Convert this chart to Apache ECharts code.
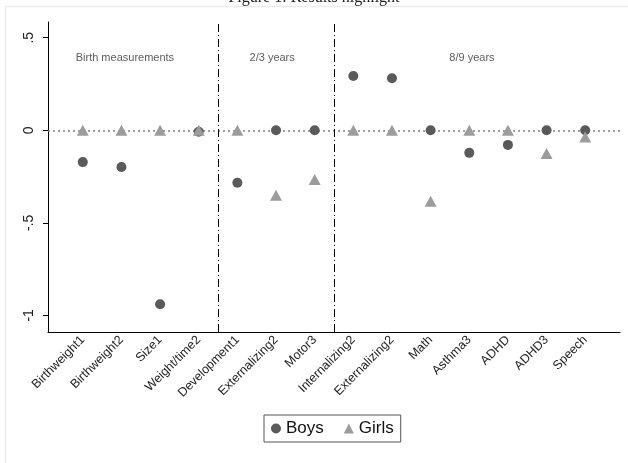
<!DOCTYPE html>
<html>
<head>
<meta charset="utf-8">
<script src="https://cdn.jsdelivr.net/npm/echarts@6/dist/echarts.min.js"></script>
<style>
html, body { margin: 0; padding: 0; background: #fff; }
#chart { width: 628px; height: 463px; }
</style>
</head>
<body>
<div id="chart"></div>
<script>
var chart = echarts.init(document.getElementById('chart'));

let categories = ['Birthweight1', 'Birthweight2', 'Size1', 'Weight/time2', 'Development1',
    'Externalizing2', 'Motor3', 'Internalizing2', 'Externalizing2', 'Math', 'Asthma3',
    'ADHD', 'ADHD3', 'Speech'];
let boys = [-0.172, -0.198, -0.94, -0.008, -0.284, 0, 0, 0.293, 0.281, 0, -0.122, -0.079, 0, 0];
let girls = [0, 0, 0, 0, 0, -0.351, -0.266, 0, 0, -0.383, 0, 0, -0.126, -0.036];
let yTicks = [-1, -0.5, 0, 0.5];
let dividers = [4.5, 7.5];
let sections = ['Birth measurements', '2/3 years', '8/9 years'];
let sectionX = [2.09, 5.9, 11.07];
let sectionY = 0.39;

let positions = categories.map((c, i) => i + 1);
let font = 'Liberation Sans, Arial, sans-serif';

let fmtY = function (v) {
    if (v === 0) return '0';
    return String(v).replace('0.', '.');
};

option = {
    backgroundColor: '#fff',
    animation: false,
    textStyle: { fontFamily: font },
    graphic: [{
        type: 'rect',
        shape: { x: 5.5, y: 6.5, width: 640, height: 470 },
        style: { fill: 'none', stroke: '#ececec', lineWidth: 1.5 },
        z: -1
    }, {
        type: 'text',
        left: 'center',
        top: -10,
        style: {
            text: 'Figure 1: Results highlight',
            font: '16px "Liberation Serif", "DejaVu Serif", serif',
            fill: '#222'
        }
    }],
    grid: { left: 48, right: 8, top: 22, bottom: 131 },
    legend: {
        data: [
            { name: 'Boys', icon: 'circle' },
            { name: 'Girls', icon: 'triangle' }
        ],
        top: 415,
        left: 264,
        borderColor: '#555',
        borderWidth: 1,
        borderRadius: 0,
        padding: [5, 7, 5, 7],
        itemGap: 20,
        itemWidth: 10,
        itemHeight: 10,
        textStyle: { fontSize: 17, color: '#111', fontFamily: font }
    },
    xAxis: {
        type: 'value',
        min: 0.1,
        max: 14.9,
        splitLine: { show: false },
        axisLine: { onZero: false, lineStyle: { color: '#000', width: 1 } },
        axisTick: { show: false },
        axisLabel: {
            customValues: positions,
            rotate: 45,
            margin: 6,
            fontSize: 12.5,
            color: '#222',
            formatter: v => categories[Math.round(v) - 1]
        }
    },
    yAxis: {
        type: 'value',
        min: -1.09,
        max: 0.585,
        splitLine: { show: false },
        axisLine: { show: true, lineStyle: { color: '#000', width: 1 } },
        axisTick: { show: true, customValues: yTicks, length: 5, lineStyle: { color: '#000' } },
        axisLabel: {
            customValues: yTicks,
            rotate: 90,
            margin: 12,
            fontSize: 14,
            color: '#222',
            formatter: fmtY
        }
    },
    series: [{
        name: 'Boys',
        type: 'scatter',
        symbol: 'circle',
        symbolSize: 10,
        itemStyle: { color: '#5a5a5a', opacity: 1 },
        data: positions.map((x, i) => [x, boys[i]]),
        markLine: {
            silent: true,
            symbol: 'none',
            label: { show: false },
            data: [{ yAxis: 0, lineStyle: { color: '#808080', type: [2, 3], width: 1.5 } }].concat(
                dividers.map(d => ({ xAxis: d, lineStyle: { color: '#000', type: [8, 3, 1, 3], width: 1 } }))
            ),
            z: 1
        },
        z: 3
    }, {
        name: 'Girls',
        type: 'scatter',
        symbol: 'triangle',
        symbolSize: [12, 11],
        itemStyle: { color: '#9c9c9c', opacity: 1 },
        data: positions.map((x, i) => [x, girls[i]]),
        z: 4
    }, {
        name: 'sections',
        type: 'scatter',
        symbolSize: 0,
        silent: true,
        label: {
            show: true,
            position: 'inside',
            formatter: p => p.name,
            fontSize: 11,
            color: '#333',
            fontFamily: font
        },
        data: sections.map((s, i) => ({ name: s, value: [sectionX[i], sectionY] }))
    }]
};
chart.setOption(option);
</script>
</body>
</html>
